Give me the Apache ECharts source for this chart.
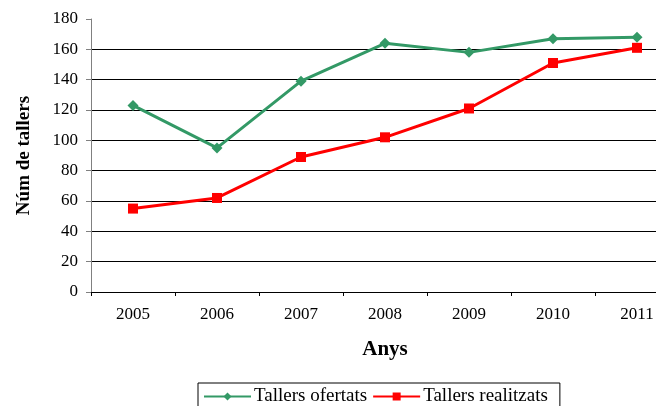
<!DOCTYPE html>
<html><head><meta charset="utf-8">
<script src="https://cdn.jsdelivr.net/npm/echarts@6/dist/echarts.min.js"></script>
<style>html,body{margin:0;padding:0;background:#fff}#c{width:656px;height:406px}</style>
</head><body><div id="c"></div>
<script>
const years = ['2005','2006','2007','2008','2009','2010','2011'];
const ofertats = [123, 95, 139, 164, 158, 167, 168];
const realitzats = [55, 62, 89, 102, 121, 151, 161];
const yTicks = [0, 20, 40, 60, 80, 100, 120, 140, 160, 180];

const font = 'Liberation Serif';
const chart = echarts.init(document.getElementById('c'), null, {renderer: 'canvas'});
chart.setOption({
  animation: false,
  backgroundColor: '#fff',
  grid: {left: 91, top: 19, width: 588, height: 273, containLabel: false, outerBoundsMode: 'none'},
  xAxis: {
    type: 'category', data: years, boundaryGap: true,
    name: 'Anys', nameLocation: 'middle', nameGap: 47,
    nameTextStyle: {fontFamily: font, fontWeight: 'bold', fontSize: 21, color: '#000'},
    axisLine: {lineStyle: {color: '#000', width: 1}},
    axisTick: {show: true, length: 4, lineStyle: {color: '#000'}},
    axisLabel: {fontFamily: font, fontSize: 17, color: '#000', margin: 14},
    splitLine: {show: false}
  },
  yAxis: {
    type: 'value', min: yTicks[0], max: yTicks[yTicks.length-1], interval: 20,
    name: 'Núm de tallers', nameLocation: 'middle', nameGap: 57, nameRotate: 90,
    nameTextStyle: {fontFamily: font, fontWeight: 'bold', fontSize: 19, color: '#000'},
    axisLine: {show: true, lineStyle: {color: '#808080', width: 1}},
    axisTick: {show: true, length: 5, lineStyle: {color: '#808080'}},
    axisLabel: {fontFamily: font, fontSize: 17, color: '#000', margin: 13},
    splitLine: {show: true, lineStyle: {color: yTicks.map((v, i) => i === yTicks.length-1 ? 'rgba(0,0,0,0)' : '#000'), width: 1}}
  },
  legend: {
    left: 198, top: 383,
    data: ['Tallers ofertats', 'Tallers realitzats'],
    borderColor: '#000', borderWidth: 1, borderRadius: 0,
    padding: [4, 12, 8, 5], itemGap: 5,
    itemWidth: 47, itemHeight: 10,
    textStyle: {fontFamily: font, fontSize: 19, color: '#000', padding: [0, 0, 0, -2]}
  },
  series: [
    {name: 'Tallers ofertats', type: 'line', data: ofertats,
     symbol: 'diamond', symbolSize: 11,
     itemStyle: {color: '#339966'}, lineStyle: {color: '#339966', width: 3}},
    {name: 'Tallers realitzats', type: 'line', data: realitzats,
     symbol: 'rect', symbolSize: 10,
     itemStyle: {color: '#ff0000'}, lineStyle: {color: '#ff0000', width: 3}}
  ]
});
</script></body></html>
